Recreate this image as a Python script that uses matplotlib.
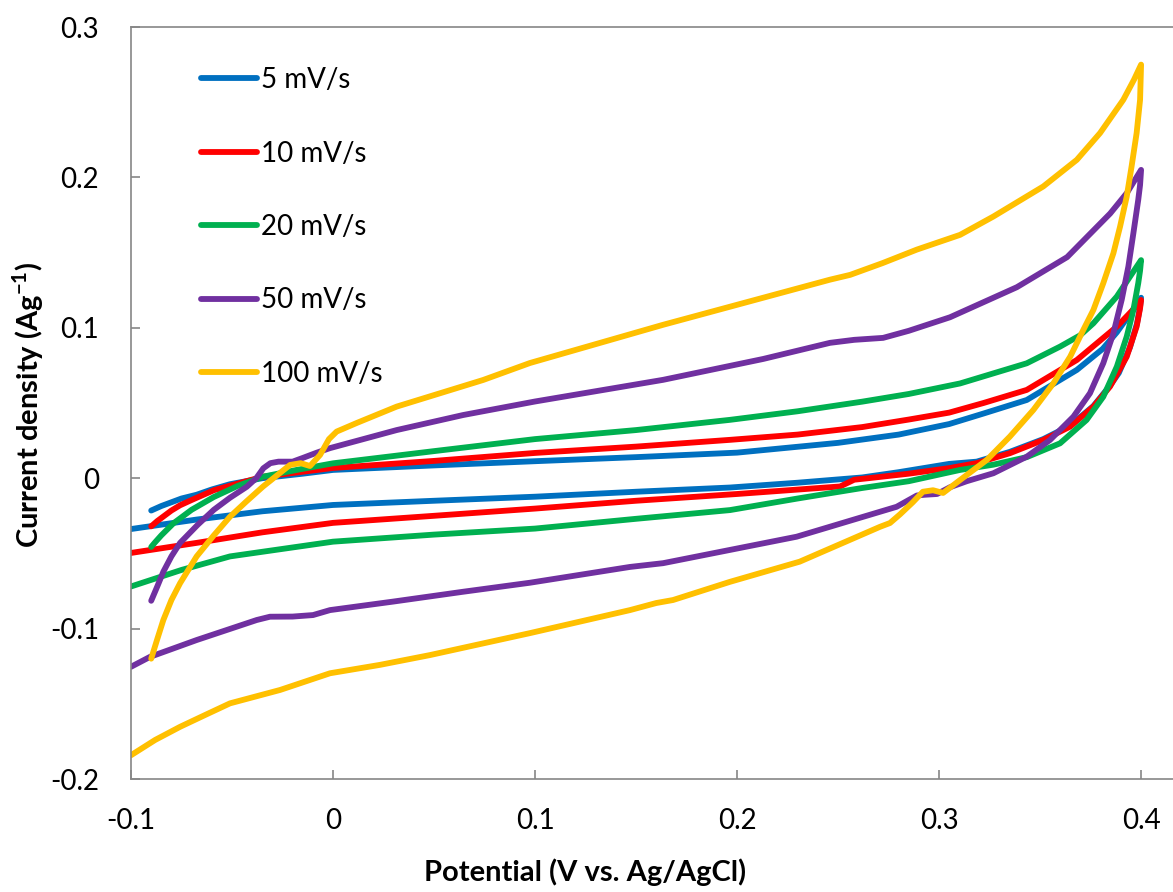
import matplotlib.pyplot as plt

plt.rcParams['font.family'] = ['Lato', 'DejaVu Sans']
plt.rcParams['axes.unicode_minus'] = False

labels = ['5 mV/s', '10 mV/s', '20 mV/s', '50 mV/s', '100 mV/s']
colors = ['#0070C0', '#FF0000', '#00B050', '#7030A0', '#FFC000']

# each loop: anodic sweep from -0.09 V up to 0.4 V, then cathodic sweep back to -0.1 V
v_5 = [-0.090, -0.085, -0.075, -0.0675, -0.060, -0.051, -0.035, -0.015, 0.0, 0.05, 0.1, 0.15, 0.2,
       0.25, 0.28, 0.305, 0.322, 0.3434, 0.3682, 0.381, 0.388, 0.396, 0.4,
       0.3995, 0.398, 0.3945, 0.389, 0.3846, 0.3764, 0.3649, 0.3516, 0.335, 0.3186, 0.305, 0.28,
       0.262, 0.23, 0.1965, 0.15, 0.1, 0.05, 0.0, -0.035, -0.0675, -0.1]
i_5 = [-0.0215, -0.0185, -0.0135, -0.011, -0.0075, -0.004, 0.0, 0.003, 0.0055, 0.0085, 0.0113, 0.014, 0.017,
       0.0235, 0.029, 0.036, 0.043, 0.052, 0.072, 0.086, 0.097, 0.112, 0.120,
       0.114, 0.103, 0.087, 0.070, 0.0615, 0.048, 0.035, 0.026, 0.0175, 0.011, 0.0095, 0.004,
       0.0005, -0.003, -0.0062, -0.009, -0.0123, -0.015, -0.0178, -0.022, -0.0275, -0.0338]

v_10 = [-0.090, -0.087, -0.080, -0.0757, -0.070, -0.059, -0.047, -0.0347, 0.0, 0.05, 0.1, 0.15, 0.1965,
        0.23, 0.262, 0.285, 0.305, 0.322, 0.3434, 0.3682, 0.388, 0.396, 0.4,
        0.3995, 0.3978, 0.3929, 0.3846, 0.3764, 0.3649, 0.3516, 0.335, 0.3186, 0.305, 0.285, 0.265,
        0.258, 0.251, 0.2, 0.15, 0.1, 0.05, 0.0, -0.035, -0.0675, -0.1]
i_10 = [-0.032, -0.0285, -0.0215, -0.018, -0.0145, -0.008, -0.0035, 0.001, 0.0068, 0.0115, 0.0168, 0.021,
        0.0255, 0.029, 0.034, 0.039, 0.0436, 0.050, 0.0587, 0.0786, 0.1008, 0.112, 0.1185,
        0.113, 0.1008, 0.0808, 0.0609, 0.0476, 0.0343, 0.0254, 0.0166, 0.010, 0.0067, 0.003, 0.0,
        -0.001, -0.0055, -0.0105, -0.015, -0.0202, -0.025, -0.0297, -0.036, -0.043, -0.0497]

v_20 = [-0.090, -0.088, -0.085, -0.079, -0.07, -0.059, -0.047, -0.0347, -0.018, 0.0, 0.05, 0.1, 0.15,
        0.1965, 0.23, 0.262, 0.285, 0.3104, 0.3434, 0.3599, 0.3698, 0.3764, 0.388, 0.395, 0.4,
        0.3995, 0.3986, 0.3962, 0.3929, 0.388, 0.3813, 0.373, 0.3599, 0.3434, 0.3269, 0.3104,
        0.285, 0.262, 0.23, 0.1965, 0.15, 0.1, 0.05, 0.0, -0.051, -0.075, -0.1]
i_20 = [-0.0457, -0.0425, -0.038, -0.030, -0.021, -0.0125, -0.005, 0.001, 0.0055, 0.0099, 0.018, 0.026,
        0.032, 0.0388, 0.0445, 0.0509, 0.056, 0.063, 0.0764, 0.0875, 0.095, 0.103, 0.1208, 0.135, 0.145,
        0.138, 0.1297, 0.1119, 0.0942, 0.0742, 0.0542, 0.0387, 0.0232, 0.014, 0.009, 0.0055,
        -0.002, -0.0065, -0.0135, -0.0212, -0.027, -0.0335, -0.0375, -0.0422, -0.052, -0.061, -0.072]

v_50 = [-0.090, -0.087, -0.084, -0.080, -0.0757, -0.067, -0.059, -0.051, -0.0427, -0.038, -0.0345,
        -0.031, -0.027, -0.020, -0.0149, -0.008, -0.0015, 0.0315, 0.0644, 0.1, 0.1634, 0.213, 0.246,
        0.258, 0.2723, 0.285, 0.3054, 0.3385, 0.3634, 0.3847, 0.393, 0.4,
        0.3995, 0.3986, 0.3962, 0.3937, 0.3904, 0.3863, 0.3813, 0.3747, 0.3665, 0.3549, 0.3434,
        0.3269, 0.3137, 0.3054, 0.299, 0.293, 0.289, 0.283, 0.279, 0.2295, 0.1634, 0.147, 0.0975,
        0.0644, 0.03, -0.0015, -0.0099, -0.02, -0.0312, -0.0378, -0.0675, -0.0906, -0.1]
i_50 = [-0.0815, -0.072, -0.0622, -0.052, -0.043, -0.031, -0.021, -0.013, -0.0057, 0.0, 0.0066,
        0.0100, 0.011, 0.011, 0.0135, 0.017, 0.020, 0.032, 0.042, 0.051, 0.0654, 0.0793, 0.090,
        0.092, 0.0933, 0.098, 0.107, 0.127, 0.147, 0.176, 0.1897, 0.205,
        0.195, 0.1851, 0.163, 0.1407, 0.1186, 0.0964, 0.0765, 0.0565, 0.0409, 0.0254, 0.0143,
        0.0033, -0.002, -0.006, -0.0105, -0.011, -0.0115, -0.016, -0.019, -0.0389, -0.0565, -0.059, -0.0695,
        -0.0755, -0.082, -0.0877, -0.091, -0.092, -0.0921, -0.0943, -0.1076, -0.1188, -0.1254]

v_100 = [-0.090, -0.087, -0.084, -0.080, -0.0757, -0.0675, -0.059, -0.051, -0.043, -0.0347, -0.0213,
         -0.016, -0.0114, -0.0064, -0.002, 0.0018, 0.0117, 0.0315, 0.0743, 0.0975, 0.1634, 0.246,
         0.256, 0.272, 0.289, 0.3104, 0.3269, 0.3516, 0.3682, 0.3797, 0.3912, 0.3965, 0.4,
         0.3995, 0.3978, 0.3953, 0.3929, 0.3896, 0.3863, 0.3813, 0.3764, 0.3714, 0.3649, 0.3566,
         0.3467, 0.335, 0.3236, 0.3104, 0.302, 0.297, 0.292, 0.287, 0.2807, 0.2757, 0.2708, 0.231,
         0.1965, 0.1683, 0.160, 0.147, 0.0975, 0.048, 0.0233, -0.0015, -0.0262, -0.051, -0.0634,
         -0.0757, -0.088, -0.1]
i_100 = [-0.120, -0.107, -0.0943, -0.081, -0.0698, -0.052, -0.038, -0.0256, -0.0156, -0.0056, 0.0088,
         0.010, 0.0081, 0.0155, 0.026, 0.031, 0.0367, 0.0476, 0.0653, 0.0766, 0.102, 0.132,
         0.1352, 0.143, 0.152, 0.1618, 0.174, 0.194, 0.2117, 0.2295, 0.2516, 0.265, 0.275,
         0.2516, 0.2295, 0.2073, 0.1873, 0.1673, 0.1496, 0.1297, 0.1119, 0.0986, 0.0808, 0.0631,
         0.0454, 0.0276, 0.0121, -0.0012, -0.0098, -0.008, -0.009, -0.016, -0.024, -0.0298, -0.0323,
         -0.0555, -0.0689, -0.081, -0.083, -0.0877, -0.103, -0.1176, -0.1241, -0.1297, -0.1408,
         -0.1497, -0.1575, -0.1653, -0.174, -0.1842]

potentials = [v_5, v_10, v_20, v_50, v_100]
currents = [i_5, i_10, i_20, i_50, i_100]

x_ticks = [-0.1, 0, 0.1, 0.2, 0.3, 0.4]
x_tick_labels = ['-0.1', '0', '0.1', '0.2', '0.3', '0.4']
y_ticks = [-0.2, -0.1, 0, 0.1, 0.2, 0.3]
y_tick_labels = ['-0.2', '-0.1', '0', '0.1', '0.2', '0.3']

fig = plt.figure(figsize=(11.73, 8.92), dpi=100)
ax = fig.add_axes([131 / 1173, 1 - 779 / 892, 1 - 131 / 1173, (779 - 27) / 892])

for v, i, c, lab in zip(potentials, currents, colors, labels):
    ax.plot(v, i, color=c, lw=4.2, label=lab, solid_joinstyle='round', solid_capstyle='round')

ax.set_xlim(-0.1, 0.4158)
ax.set_ylim(-0.2, 0.3)
ax.set_xticks(x_ticks, x_tick_labels)
ax.set_yticks(y_ticks, y_tick_labels)

axis_grey = '#868686'
for side in ['left', 'bottom', 'top']:
    ax.spines[side].set_color(axis_grey)
    ax.spines[side].set_linewidth(1.2)
ax.spines['right'].set_visible(False)
ax.tick_params(axis='both', direction='in', length=6.5, width=1.2, color=axis_grey,
               labelsize=20, labelcolor='black')
ax.tick_params(axis='x', pad=21)
ax.tick_params(axis='y', pad=23)

leg = ax.legend(loc='upper left', bbox_to_anchor=(70 / 1042, 1 - 40 / 752), frameon=False,
                fontsize=20, handlelength=2.0, handletextpad=0.15, labelspacing=1.71,
                borderpad=0, borderaxespad=0)
for h in leg.get_lines():
    h.set_linewidth(4.2)

fig.text(585 / 1173, 1 - 872 / 892, 'Potential (V vs. Ag/AgCl)', ha='center', va='center',
         fontsize=21, fontweight='bold')
fig.text(28 / 1173, 1 - 405 / 892, 'Current density (Ag$^{\\mathregular{-1}}$)', ha='center', va='center',
         rotation=90, fontsize=21, fontweight='bold')

fig.savefig('out.png', dpi=100)
